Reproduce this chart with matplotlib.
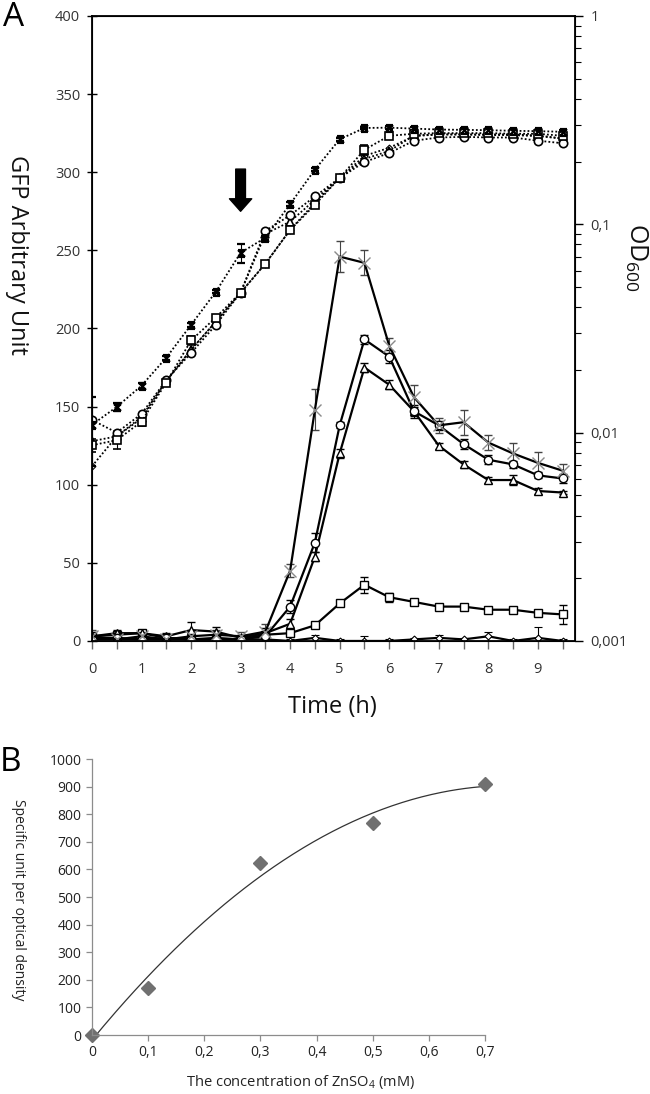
import numpy as np
import matplotlib.pyplot as plt
from matplotlib.path import Path
from matplotlib.ticker import FixedLocator, NullFormatter

plt.rcParams['font.family'] = ['Open Sans', 'DejaVu Sans']

# --- Panel A data ---
time = [0, 0.5, 1, 1.5, 2, 2.5, 3, 3.5, 4, 4.5, 5, 5.5, 6, 6.5, 7, 7.5, 8, 8.5, 9, 9.5]

# GFP (left axis, solid lines)
gfp_x = [3, 1, 3, 1, 3, 4, 3, 6, 45, 148, 246, 242, 189, 156, 138, 140, 127, 120, 114, 109]
gfp_x_err = [4, 5, 2, 3, 2, 3, 3, 5, 4, 13, 10, 8, 5, 8, 5, 8, 5, 7, 7, 4]
gfp_circle = [2, 2, 1, 2, 1, 1, 1, 3, 22, 63, 138, 193, 182, 147, 138, 126, 116, 113, 106, 104]
gfp_circle_err = [2, 1, 1, 1, 1, 1, 1, 2, 4, 6, 2, 3, 4, 4, 3, 3, 3, 2, 2, 3]
gfp_triangle = [3, 5, 5, 3, 7, 6, 2, 5, 11, 54, 120, 175, 164, 147, 125, 113, 103, 103, 96, 95]
gfp_triangle_err = [2, 2, 2, 2, 5, 3, 2, 3, 3, 3, 3, 3, 3, 3, 2, 2, 2, 3, 2, 1]
gfp_square = [3, 4, 5, 2, 1, 2, 1, 4, 5, 10, 24, 36, 28, 25, 22, 22, 20, 20, 18, 17]
gfp_square_err = [2, 2, 2, 1, 1, 1, 1, 2, 1, 2, 1, 5, 3, 2, 1, 1, 2, 1, 1, 6]
gfp_diamond = [1, 1, 1, 1, 1, 1, 1, 1, 0, 2, 0, 0, 0, 1, 2, 1, 3, 0, 2, 0]
gfp_diamond_err = [5, 2, 1, 1, 1, 1, 1, 1, 1, 2, 1, 3, 1, 1, 2, 1, 3, 1, 7, 1]

# OD600 (right axis, log, dotted lines)
od_star = [0.0109, 0.0133, 0.0168, 0.0229, 0.0329, 0.0474, 0.0730, 0.0862, 0.125, 0.183,
           0.256, 0.290, 0.291, 0.288, 0.285, 0.284, 0.283, 0.281, 0.280, 0.278]
od_star_err = [0.004, 0.0006, 0.0006, 0.0005, 0.0008, 0.0008, 0.0075, 0.002, 0.003, 0.003,
               0.004, 0.004, 0.005, 0.005, 0.005, 0.006, 0.005, 0.005, 0.005, 0.005]
od_square = [0.0087, 0.0092, 0.0113, 0.0174, 0.0277, 0.0357, 0.0470, 0.0647, 0.0940, 0.124,
             0.167, 0.228, 0.266, 0.272, 0.274, 0.274, 0.274, 0.272, 0.272, 0.266]
od_square_err = [0.0006, 0.0009, 0.0005, 0.0004, 0.0015, 0.001, 0.001, 0.002, 0.002, 0.003,
                 0.004, 0.012, 0.008, 0.005, 0.005, 0.005, 0.005, 0.005, 0.005, 0.005]
od_circle = [0.0115, 0.0100, 0.0123, 0.0179, 0.0241, 0.0329, 0.0470, 0.0930, 0.1105, 0.136,
             0.167, 0.199, 0.220, 0.252, 0.261, 0.263, 0.261, 0.261, 0.252, 0.245]
od_triangle = [0.0091, 0.0096, 0.0117, 0.0177, 0.0250, 0.0341, 0.0470, 0.0900, 0.103, 0.131,
               0.167, 0.206, 0.225, 0.267, 0.270, 0.270, 0.270, 0.270, 0.267, 0.258]
od_diamond = [0.0069, 0.0096, 0.0119, 0.0177, 0.0250, 0.0341, 0.0470, 0.0647, 0.094, 0.127,
              0.167, 0.213, 0.233, 0.265, 0.270, 0.270, 0.268, 0.268, 0.265, 0.258]

# --- Panel B data ---
znso4 = [0, 0.1, 0.3, 0.5, 0.7]
specific_unit = [0, 170, 625, 770, 910]

# star-like marker (x with bars top and bottom)
star = Path([(-1, -1), (1, 1), (-1, 1), (1, -1), (-1, 1), (1, 1), (-1, -1), (1, -1)],
            [Path.MOVETO, Path.LINETO] * 4)

fig = plt.figure(figsize=(6.5, 10.94), dpi=100)

# ================= Panel A =================
ax = fig.add_axes([0.1415, 0.4141, 0.7431, 0.5713])
ax2 = ax.twinx()

eb = dict(capsize=3, elinewidth=0.8, capthick=0.8, ecolor='black')
ax.errorbar(time, gfp_diamond, yerr=gfp_diamond_err, color='black', lw=1.6, marker='D', ms=3.5,
            mfc='white', mec='black', mew=0.8, **eb)
ax.errorbar(time, gfp_square, yerr=gfp_square_err, color='black', lw=1.6, marker='s', ms=6,
            mfc='white', mec='black', mew=1, **eb)
ax.errorbar(time, gfp_triangle, yerr=gfp_triangle_err, color='black', lw=1.6, marker='^', ms=6,
            mfc='white', mec='black', mew=1, **eb)
ax.errorbar(time, gfp_circle, yerr=gfp_circle_err, color='black', lw=1.6, marker='o', ms=6,
            mfc='white', mec='black', mew=1, **eb)
ax.errorbar(time, gfp_x, yerr=gfp_x_err, color='black', lw=1.6, marker='x', ms=8,
            mec='#8a8a8a', mew=1, capsize=3, elinewidth=0.8, capthick=0.8, ecolor='#444444')

ax.set_xlim(0, 9.75)
ax.set_ylim(0, 400)
ax.set_yticks(np.arange(0, 401, 50))
ax.set_xticks(np.arange(0, 9.6, 0.5))
ax.set_xticklabels([str(int(t)) if t == int(t) else '' for t in np.arange(0, 9.6, 0.5)])
ax.tick_params(axis='y', direction='inout', length=7, width=1, labelsize=10.5,
               labelcolor='#333333', pad=5)
ax.tick_params(axis='x', direction='out', length=6, width=1, color='#666666', labelsize=10.5,
               labelcolor='#333333', pad=9)
for s in ax.spines.values():
    s.set_linewidth(1.3)

od_kw = dict(color='black', ls=(0, (1, 1.2)), lw=1.3, capsize=3, elinewidth=0.8, capthick=0.8,
             ecolor='black')
ax2.plot(time, od_diamond, color='black', ls=(0, (1, 1.2)), lw=1.3, marker='D', ms=3.5,
         mfc='white', mec='black', mew=0.8)
ax2.errorbar(time, od_square, yerr=od_square_err, marker='s', ms=6, mfc='white', mec='black',
             mew=1.2, **od_kw)
ax2.plot(time, od_triangle, color='black', ls=(0, (1, 1.2)), lw=1.3, marker='^', ms=6,
         mfc='white', mec='black', mew=1.2)
ax2.plot(time, od_circle, color='black', ls=(0, (1, 1.2)), lw=1.3, marker='o', ms=6,
         mfc='white', mec='black', mew=1.2)
ax2.errorbar(time, od_star, yerr=od_star_err, marker=star, ms=5, mfc='none', mec='black',
             mew=1.6, **od_kw)

ax2.set_yscale('log')
ax2.set_ylim(0.001, 1)
ax2.set_xlim(0, 9.75)
ax2.yaxis.set_major_locator(FixedLocator([0.001, 0.01, 0.1, 1]))
ax2.set_yticklabels(['0,001', '0,01', '0,1', '1'])
minors = [m * d for d in [0.001, 0.01, 0.1] for m in range(2, 10)]
ax2.yaxis.set_minor_locator(FixedLocator(minors))
ax2.yaxis.set_minor_formatter(NullFormatter())
ax2.tick_params(axis='y', which='major', direction='out', length=6, width=1, labelsize=10.5,
                labelcolor='#333333', pad=5)
ax2.tick_params(axis='y', which='minor', direction='out', length=4, width=0.8)

# arrow at t = 3 h
ax.annotate('', xy=(3, 275), xytext=(3, 302),
            arrowprops=dict(width=7, headwidth=16, headlength=9, color='black'))

fig.text(0.026, 0.767, 'GFP Arbitrary Unit', rotation=270, ha='center', va='center',
         fontsize=17, color='#111111')
fig.text(0.978, 0.765, 'OD$_\\mathregular{600}$', rotation=270, ha='center', va='center',
         fontsize=18, color='#111111')
fig.text(0.511, 0.354, 'Time (h)', ha='center', va='center', fontsize=17, color='#111111')
fig.text(0.004, 0.999, 'A', ha='left', va='top', fontsize=24)

# ================= Panel B =================
bx = fig.add_axes([0.1415, 0.0539, 0.6046, 0.2523])
coef = np.polyfit(znso4, specific_unit, 2)
xs = np.linspace(0, 0.7, 200)
bx.plot(xs, np.polyval(coef, xs), color='#333333', lw=0.9)
bx.plot(znso4, specific_unit, ls='none', marker='D', ms=7, color='#707070', clip_on=False)
bx.set_xlim(0, 0.7)
bx.set_ylim(0, 1000)
bx.set_yticks(np.arange(0, 1001, 100))
bx.set_xticks(np.arange(0, 0.71, 0.1))
bx.set_xticklabels(['0', '0,1', '0,2', '0,3', '0,4', '0,5', '0,6', '0,7'])
for side in ['top', 'right']:
    bx.spines[side].set_visible(False)
for side in ['left', 'bottom']:
    bx.spines[side].set_color('#8c8c8c')
    bx.spines[side].set_linewidth(0.9)
bx.tick_params(direction='out', length=4, width=0.9, color='#8c8c8c', labelsize=10,
               labelcolor='#222222')
fig.text(0.028, 0.178, 'Specific unit per optical density', rotation=270, ha='center',
         va='center', fontsize=10, color='#222222')
fig.text(0.463, 0.011, 'The concentration of ZnSO$_\\mathregular{4}$ (mM)', ha='center',
         va='center', fontsize=10.5, color='#222222')
fig.text(0.0, 0.318, 'B', ha='left', va='top', fontsize=24)

fig.savefig('out.png', dpi=100)
